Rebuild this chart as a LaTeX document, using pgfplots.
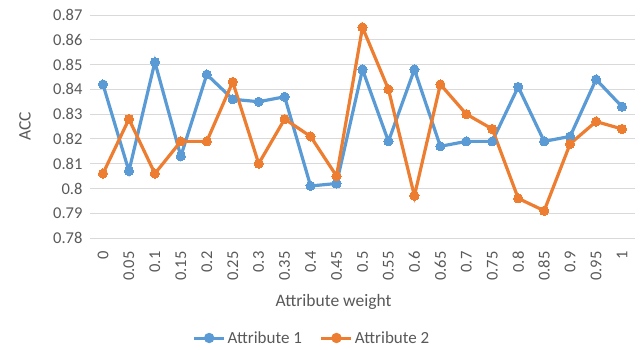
\documentclass[border=0pt]{standalone}
\usepackage{pgfplots}
\pgfplotsset{compat=1.18}
\usepackage{fontspec}
\setmainfont{Carlito}
\definecolor{cblue}{HTML}{5B9BD5}
\definecolor{corange}{HTML}{ED7D31}
\definecolor{tgray}{HTML}{595959}
\definecolor{ggray}{HTML}{D9D9D9}
\begin{document}
\begin{tikzpicture}[x=1pt,y=1pt]
\useasboundingbox (-90,-111) rectangle (551,238);
\begin{axis}[
  at={(0,0)}, anchor=south west,
  scale only axis, width=545pt, height=223pt,
  xmin=-0.5, xmax=20.5, ymin=0.78, ymax=0.87,
  xtick={0,...,20},
  xticklabels={0,0.05,0.1,0.15,0.2,0.25,0.3,0.35,0.4,0.45,0.5,0.55,0.6,0.65,0.7,0.75,0.8,0.85,0.9,0.95,1},
  ytick={0.78,0.79,0.80,0.81,0.82,0.83,0.84,0.85,0.86,0.87},
  yticklabels={0.78,0.79,0.8,0.81,0.82,0.83,0.84,0.85,0.86,0.87},
  /pgf/number format/assume math mode=true,
  ymajorgrids, grid style={ggray, line width=0.8pt},
  axis x line*=bottom, axis y line*=left,
  x axis line style={ggray, line width=0.8pt, -},
  y axis line style={draw=none},
  major tick length=0pt,
  tick label style={font=\fontsize{16.5}{18}\selectfont, text=tgray},
  xticklabel style={rotate=90, anchor=east},
  yticklabel style={anchor=east},
  xticklabel shift=10pt, yticklabel shift=4pt,
  label style={font=\fontsize{17.5}{20}\selectfont, text=tgray},
  xlabel={Attribute weight},
  ylabel={ACC},
  xlabel style={at={(axis description cs:0.5,0)}, anchor=center, yshift=-63.7pt, xshift=-29pt},
  ylabel style={at={(axis description cs:0,0.5)}, anchor=center, rotate=0, yshift=65pt},
  legend style={at={(222pt,-100pt)}, anchor=center, draw=none, fill=none,
    font=\fontsize{17}{20}\selectfont, text=tgray, legend columns=2,
    /tikz/every even column/.append style={column sep=16pt}},
  legend image code/.code={
    \draw[#1, line width=3pt] (0pt,0pt) -- (30pt,0pt);
    \fill[#1] (15pt,0pt) circle (3.5pt);
  },
  clip=false,
]
\addplot[cblue, line width=3.2pt, mark=*, mark size=4.6pt, mark options={solid, fill=cblue, draw=cblue, line width=0pt}] coordinates {
(0,0.842) (1,0.807) (2,0.851) (3,0.813) (4,0.846) (5,0.836) (6,0.835) (7,0.837) (8,0.801) (9,0.802) (10,0.848) (11,0.819) (12,0.848) (13,0.817) (14,0.819) (15,0.819) (16,0.841) (17,0.819) (18,0.821) (19,0.844) (20,0.833)
};
\addlegendentry{Attribute 1}
\addplot[corange, line width=3.2pt, mark=*, mark size=4.6pt, mark options={solid, fill=corange, draw=corange, line width=0pt}] coordinates {
(0,0.806) (1,0.828) (2,0.806) (3,0.819) (4,0.819) (5,0.843) (6,0.810) (7,0.828) (8,0.821) (9,0.805) (10,0.865) (11,0.840) (12,0.797) (13,0.842) (14,0.830) (15,0.824) (16,0.796) (17,0.791) (18,0.818) (19,0.827) (20,0.824)
};
\addlegendentry{Attribute 2}
\end{axis}
\end{tikzpicture}
\end{document}
